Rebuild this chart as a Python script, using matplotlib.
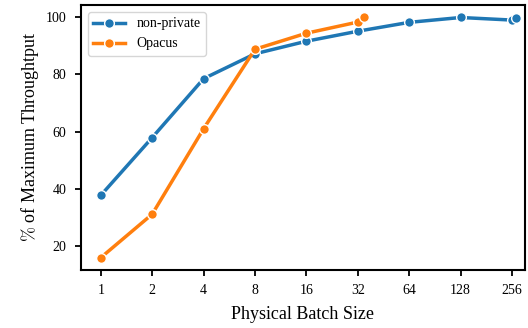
import numpy as np
import matplotlib
matplotlib.use("Agg")
from matplotlib import pyplot as plt

# batch sizes (the last point of each series is the max batch that fits)
batchNonPrivate = [1, 2, 4, 8, 16, 32, 64, 128, 256, 270]
tputNonPrivate = [37.7, 57.9, 78.5, 87.2, 91.6, 95.1, 98.2, 99.9, 99.0, 99.8]

batchOpacus = [1, 2, 4, 8, 16, 32, 35]
tputOpacus = [15.9, 31.1, 61.0, 88.8, 94.4, 98.3, 99.9]

tickVals = [1, 2, 4, 8, 16, 32, 64, 128, 256]

plt.rcParams["font.family"] = ["Liberation Serif", "DejaVu Serif"]
plt.rcParams["mathtext.fontset"] = "cm"

fig, ax = plt.subplots(figsize=(5.28, 3.28), dpi=100)

ax.plot(batchNonPrivate, tputNonPrivate, "o-", color="#1f77b4", lw=2.5, ms=7,
        mec="white", mew=1.0, label="non-private")
ax.plot(batchOpacus, tputOpacus, "o-", color="#ff7f0e", lw=2.5, ms=7,
        mec="white", mew=1.0, label="Opacus")

ax.set_xscale("log", base=2)
ax.set_xticks(tickVals)
ax.set_xticklabels([str(v) for v in tickVals])
ax.minorticks_off()
ax.set_xlim(2 ** -0.39, 2 ** 8.25)
ax.set_ylim(11.7, 104.3)
ax.set_yticks([20, 40, 60, 80, 100])

ax.set_xlabel("Physical Batch Size", fontsize=13, labelpad=6)
ax.set_ylabel(r"$\%$ of Maximum Throughtput", fontsize=13, labelpad=3)
ax.tick_params(labelsize=10, direction="out", length=4.5, width=1.3, pad=6)
for s in ax.spines.values():
    s.set_linewidth(1.5)

leg = ax.legend(loc="upper left", fontsize=10, handlelength=2.3, frameon=True,
                fancybox=True, edgecolor="#cccccc")
leg.get_frame().set_linewidth(1.0)

plt.subplots_adjust(left=0.153, right=0.994, top=0.985, bottom=0.178)
plt.savefig("out.png", dpi=100)
